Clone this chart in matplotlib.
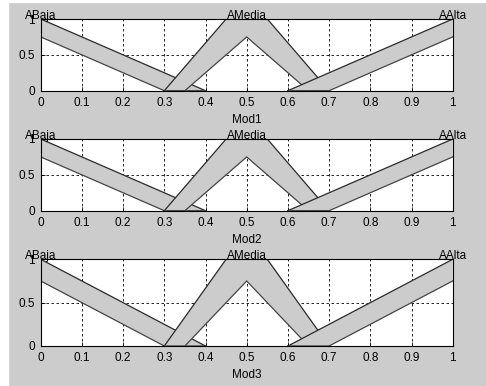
import matplotlib
matplotlib.use("Agg")
import matplotlib.pyplot as plt
from matplotlib.patches import Rectangle

# Membership functions (interval type-2): upper and lower bounds as vertex lists
mf_names = ["ABaja", "AMedia", "AAlta"]
mf_peaks = [0.0, 0.5, 1.0]

baja_upper_x = [0.0, 0.4]
baja_upper_y = [1.0, 0.0]
baja_lower_x = [0.0, 0.3, 0.4]
baja_lower_y = [0.75, 0.0, 0.0]

media_upper_x = [0.3, 0.45, 0.55, 0.7]
media_upper_y = [0.0, 1.0, 1.0, 0.0]
media_lower_x = [0.3, 0.35, 0.5, 0.65, 0.7]
media_lower_y = [0.0, 0.0, 0.75, 0.0, 0.0]

alta_upper_x = [0.6, 1.0]
alta_upper_y = [0.0, 1.0]
alta_lower_x = [0.6, 0.7, 1.0]
alta_lower_y = [0.0, 0.0, 0.75]

panel_labels = ["Mod1", "Mod2", "Mod3"]
x_ticks = [0, 0.1, 0.2, 0.3, 0.4, 0.5, 0.6, 0.7, 0.8, 0.9, 1]
x_tick_labels = ["0", "0.1", "0.2", "0.3", "0.4", "0.5", "0.6", "0.7", "0.8", "0.9", "1"]
y_ticks = [0, 0.5, 1]
y_tick_labels = ["0", "0.5", "1"]

mfs = [
    (baja_upper_x, baja_upper_y, baja_lower_x, baja_lower_y),
    (media_upper_x, media_upper_y, media_lower_x, media_lower_y),
    (alta_upper_x, alta_upper_y, alta_lower_x, alta_lower_y),
]

plt.rcParams["font.family"] = ["Liberation Sans", "DejaVu Sans"]
plt.rcParams["font.size"] = 8.5

W, H = 486, 386
fig = plt.figure(figsize=(W / 100, H / 100), dpi=100, facecolor="#cccccc")

# axes boxes in pixels: (left, top, right, bottom)
boxes = [(40.7, 19.0, 452.7, 90.7),
         (40.7, 139.0, 452.7, 210.7),
         (40.7, 259.3, 452.7, 346.0)]

band = "#cccccc"
edge = "#2a2a2a"

for (l, t, r, b), label in zip(boxes, panel_labels):
    ax = fig.add_axes([l / W, 1 - b / H, (r - l) / W, (b - t) / H])
    ax.set_facecolor("white")
    z = 2
    for ux, uy, lx, ly in mfs:
        poly_x = list(ux) + list(lx[::-1])
        poly_y = list(uy) + list(ly[::-1])
        ax.fill(poly_x, poly_y, color=band, zorder=z, linewidth=0)
        ax.plot(ux, uy, color=edge, lw=0.9, zorder=z + 0.5)
        ax.plot(lx, ly, color="#444444", lw=0.9, zorder=z + 0.5)
        z += 1
    for name, px in zip(mf_names, mf_peaks):
        ax.text(px, 1.0, name, ha="center", va="baseline", fontsize=8.5,
                color="black", zorder=10, clip_on=False)
    ax.set_xlim(0, 1)
    ax.set_ylim(0, 1)
    ax.set_xticks(x_ticks)
    ax.set_xticklabels(x_tick_labels)
    ax.set_yticks(y_ticks)
    ax.set_yticklabels(y_tick_labels)
    ax.tick_params(direction="in", length=3, width=0.6, colors="black")
    ax.tick_params(axis="x", pad=4.5)
    ax.tick_params(axis="y", pad=4)
    ax.grid(True, color="black", linestyle=(0, (3, 3)), linewidth=0.6, zorder=1)
    ax.set_axisbelow(True)
    for s in ax.spines.values():
        s.set_color("black")
        s.set_linewidth(0.8)
        s.set_zorder(8)
    ax.set_xlabel(label, labelpad=3.5)

# white margins along the left and top edges
fig.patches.append(Rectangle((0, 0), 8 / W, 1, transform=fig.transFigure,
                             color="white", zorder=-1))
fig.patches.append(Rectangle((0, 1 - 1.5 / H), 1, 1.5 / H, transform=fig.transFigure,
                             color="white", zorder=-1))

fig.savefig("out.png", dpi=100, facecolor=fig.get_facecolor())
